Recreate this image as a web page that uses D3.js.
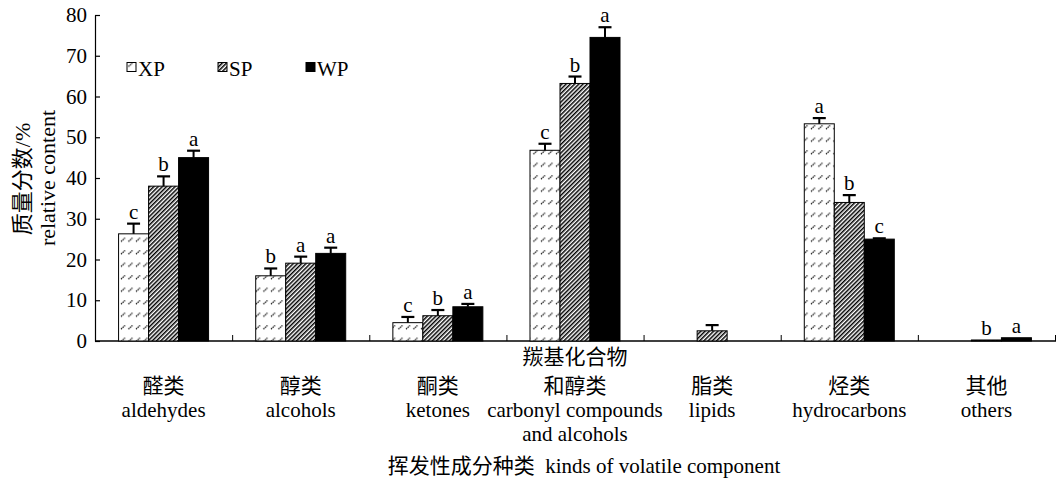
<!DOCTYPE html>
<html>
<head>
<meta charset="utf-8">
<script src="https://cdn.jsdelivr.net/npm/d3@7/dist/d3.min.js"></script>
<style>
    body{ margin:0; background:white; }
</style>
</head>
<body>
<div id="chart"></div>
<script>
    // categories (two label rows: chinese / english)
    var catZh = [["醛类"],["醇类"],["酮类"],["羰基化合物","和醇类"],["脂类"],["烃类"],["其他"]]
    var catEn = [["aldehydes"],["alcohols"],["ketones"],["carbonyl compounds","and alcohols"],["lipids"],["hydrocarbons"],["others"]]
    var seriesNames = ["XP","SP","WP"]

    var xpValues = [26.3, 16.0, 4.5, 46.8, 0, 53.3, 0]
    var xpErr    = [2.5, 1.8, 1.4, 1.6, 0, 1.4, 0]
    var xpSig    = ["c","b","c","c","","a",""]

    var spValues = [38.0, 19.1, 6.2, 63.2, 2.5, 34.0, 0.25]
    var spErr    = [2.4, 1.6, 1.4, 1.7, 1.4, 1.8, 0]
    var spSig    = ["b","a","b","b","","b","b"]

    var wpValues = [45.0, 21.5, 8.4, 74.5, 0, 25.0, 0.8]
    var wpErr    = [1.7, 1.4, 0.7, 2.5, 0, 0.2, 0]
    var wpSig    = ["a","a","a","a","","c","a"]

    var yTicks = [0,10,20,30,40,50,60,70,80]

    var series = [
        {name:"XP", values:xpValues, err:xpErr, sig:xpSig, fill:"url(#xpPat)"},
        {name:"SP", values:spValues, err:spErr, sig:spSig, fill:"url(#spPat)"},
        {name:"WP", values:wpValues, err:wpErr, sig:wpSig, fill:"black"}
    ]

    var W = 1056, H = 481
    var fs = 21
    var font = "'Liberation Serif', 'DejaVu Serif', 'Noto Sans CJK SC', serif"

    var svg = d3.select("#chart").append("svg").attr("width",W).attr("height",H)
        .attr("font-family",font)

    var defs = svg.append("defs")
    // XP: white with little dotted slashes
    var xp = defs.append("pattern").attr("id","xpPat").attr("patternUnits","userSpaceOnUse")
        .attr("width",7.5).attr("height",12.5)
    xp.append("rect").attr("width",7.5).attr("height",12.5).attr("fill","white")
    xp.append("line").attr("x1",1).attr("y1",4).attr("x2",5).attr("y2",0.5)
        .attr("stroke","#000").attr("stroke-width",1.2).attr("stroke-dasharray","1.3,0.8")
    // SP: dense diagonal hatch
    var sp = defs.append("pattern").attr("id","spPat").attr("patternUnits","userSpaceOnUse")
        .attr("width",3).attr("height",6).attr("patternTransform","rotate(45)")
    sp.append("rect").attr("width",3).attr("height",6).attr("fill","white")
    sp.append("line").attr("x1",0.75).attr("y1",0).attr("x2",0.75).attr("y2",6)
        .attr("stroke","black").attr("stroke-width",1.5)

    var x = d3.scaleBand().domain(d3.range(catZh.length)).range([95,1055]).padding(0)
    var groupW = 90
    var xs = d3.scaleBand().domain(seriesNames).range([0,groupW]).padding(0)
    var y = d3.scaleLinear().domain([0,80]).range([341,15])

    function txt(sel){
        return sel.append("text").attr("font-family",font).attr("fill","black")
    }

    // y axis
    var yAxis = d3.axisLeft(y).tickValues(yTicks).tickSize(-5).tickSizeOuter(0).tickPadding(8)
    var ya = svg.append("g").attr("transform","translate(95,0)").call(yAxis)
    ya.attr("font-family",font).attr("font-size",fs)
    ya.selectAll("text").attr("font-size",fs).attr("fill","black")
    ya.selectAll("path,line").attr("stroke","black").attr("stroke-width",1.2)

    // x axis line with small up ticks at category boundaries
    var xb = d3.scaleLinear().domain([0,catZh.length]).range([95,1055])
    var xAxis = d3.axisBottom(xb).tickValues(d3.range(1,catZh.length+1)).tickSize(-6).tickSizeOuter(0).tickFormat("")
    var xa = svg.append("g").attr("transform","translate(0,341)").call(xAxis)
    xa.select(".domain").attr("d","M95,0H1056").attr("stroke","black").attr("stroke-width",1.3)
    xa.selectAll("line").attr("stroke","black")

    // bars
    series.forEach(function(s){
        var g = svg.append("g")
        s.values.forEach(function(v,i){
            var bx = x(i) + (x.bandwidth()-groupW)/2 + xs(s.name)
            var bw = xs.bandwidth()
            if(v>0){
                g.append("rect").attr("x",bx).attr("y",y(v)).attr("width",bw)
                    .attr("height",y(0)-y(v)).attr("fill",s.fill)
                    .attr("stroke","black").attr("stroke-width",1)
            }
            var top = y(v)
            if(s.err[i]>0){
                top = y(v+s.err[i])
                var cx = bx+bw/2
                g.append("line").attr("x1",cx).attr("x2",cx).attr("y1",y(v)).attr("y2",top)
                    .attr("stroke","black").attr("stroke-width",2)
                g.append("line").attr("x1",cx-6.5).attr("x2",cx+6.5).attr("y1",top).attr("y2",top)
                    .attr("stroke","black").attr("stroke-width",2.2)
            }
            if(s.sig[i]!=""){
                txt(g).text(s.sig[i]).attr("x",bx+bw/2).attr("y",top-5)
                    .attr("text-anchor","middle").attr("font-size",fs)
            }
        })
    })

    // category labels
    catZh.forEach(function(lines,i){
        var cx = x(i)+x.bandwidth()/2
        lines.forEach(function(t,j){
            txt(svg).text(t).attr("x",cx).attr("y",393-(lines.length-1-j)*29)
                .attr("text-anchor","middle").attr("font-size",fs)
        })
        catEn[i].forEach(function(t,j){
            txt(svg).text(t).attr("x",cx).attr("y",417+j*24)
                .attr("text-anchor","middle").attr("font-size",fs)
        })
    })

    // axis titles
    txt(svg).text("挥发性成分种类  kinds of volatile component")
        .attr("x",584).attr("y",473).attr("text-anchor","middle").attr("font-size",fs)
        .style("white-space","pre")

    txt(svg).text("质量分数/%").attr("text-anchor","middle").attr("font-size",22)
        .attr("transform","translate(30,179) rotate(-90)")
    txt(svg).text("relative content").attr("text-anchor","middle").attr("font-size",fs+1)
        .attr("transform","translate(55,178) rotate(-90)")

    // legend
    var legX = [127,218,306]
    series.forEach(function(s,i){
        svg.append("rect").attr("x",legX[i]).attr("y",62.5).attr("width",9).attr("height",9)
            .attr("fill",s.fill).attr("stroke","black").attr("stroke-width",1)
        txt(svg).text(s.name).attr("x",legX[i]+11).attr("y",76).attr("font-size",fs)
    })
</script>
</body>
</html>
